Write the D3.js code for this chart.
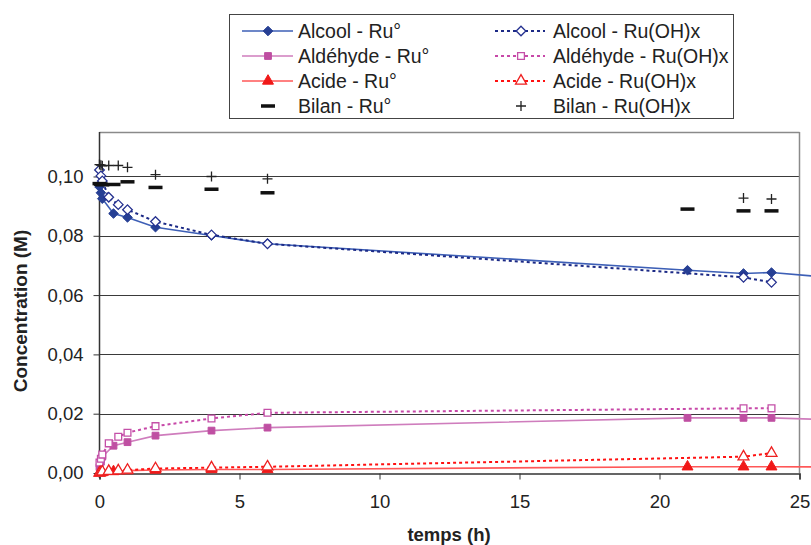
<!DOCTYPE html>
<html><head><meta charset="utf-8">
<script src="https://cdn.jsdelivr.net/npm/d3@7"></script>
<style>
html,body{margin:0;padding:0;background:#fff;}
svg{display:block;font-family:"Liberation Sans",Arial,sans-serif;}
</style></head>
<body><svg id="c" width="811" height="545"></svg>
<script>
// ---- data ----
const timesRu = [0, 0.05, 0.1, 0.5, 1, 2, 4, 6, 21, 23, 24, 30];
const alcoolRu   = [0.0965, 0.0945, 0.0925, 0.0875, 0.0862, 0.0829, 0.0801, 0.0773, 0.0684, 0.0673, 0.0676, 0.0628];
const aldehydeRu = [0.0020, 0.0038, 0.0055, 0.0092, 0.0104, 0.0126, 0.0143, 0.0153, 0.0186, 0.0186, 0.0186, 0.0168];
const acideRu    = [0.0000, 0.0002, 0.0003, 0.0005, 0.0008, 0.0010, 0.0012, 0.0012, 0.0021, 0.0021, 0.0021, 0.0019];
const bilanRu    = [0.0976, 0.0974, 0.0972, 0.0973, 0.0982, 0.0963, 0.0957, 0.0945, 0.0890, 0.0884, 0.0884, null];

const timesOH = [0, 0.05, 0.1, 0.33, 0.67, 1, 2, 4, 6, 23, 24];
const alcoolOH   = [0.1022, 0.1002, 0.0985, 0.0930, 0.0905, 0.0888, 0.0848, 0.0803, 0.0773, 0.0660, 0.0643];
const aldehydeOH = [0.0035, 0.0048, 0.0062, 0.0100, 0.0122, 0.0136, 0.0158, 0.0184, 0.0203, 0.0218, 0.0218];
const acideOH    = [0.0000, 0.0002, 0.0004, 0.0006, 0.0008, 0.0010, 0.0015, 0.0018, 0.0021, 0.0055, 0.0067];
const bilanOH    = [0.1040, 0.1038, 0.1036, 0.1037, 0.1037, 0.1031, 0.1006, 0.1000, 0.0992, 0.0927, 0.0924];

const xTicks = [0, 5, 10, 15, 20, 25];
const yTicks = [0, 0.02, 0.04, 0.06, 0.08, 0.10];
const legendLabels = ["Alcool - Ru°", "Alcool - Ru(OH)x", "Aldéhyde - Ru°", "Aldéhyde - Ru(OH)x",
                      "Acide - Ru°", "Acide - Ru(OH)x", "Bilan - Ru°", "Bilan - Ru(OH)x"];

// ---- layout ----
const svg = d3.select("#c");
const x = d3.scaleLinear().domain([0, 25]).range([99.5, 799.5]);
const y = d3.scaleLinear().domain([0, 0.115]).range([473, 132]);
const fmt = v => d3.format(".2f")(v).replace(".", ",");

// gridlines
svg.append("g").selectAll("line").data(yTicks.filter(d => d > 0)).join("line")
  .attr("x1", x(0)).attr("x2", x(25))
  .attr("y1", d => Math.round(y(d)) + 0.5).attr("y2", d => Math.round(y(d)) + 0.5)
  .attr("stroke", "#3a3a3a").attr("stroke-width", 1);

// frame top / right
svg.append("line").attr("x1", x(0)).attr("x2", x(25)).attr("y1", 132.5).attr("y2", 132.5)
  .attr("stroke", "#8a8a8a").attr("stroke-width", 1.5);
svg.append("line").attr("x1", x(25)).attr("x2", x(25)).attr("y1", 132).attr("y2", 473)
  .attr("stroke", "#8a8a8a").attr("stroke-width", 1.5);

// axes
const xAxis = d3.axisBottom(x).tickValues(xTicks).tickSize(6).tickPadding(15).tickFormat(d3.format("d"));
const gx = svg.append("g").attr("transform", "translate(0,473.5)").call(xAxis);
const yAxis = d3.axisLeft(y).tickValues(yTicks).tickSize(6).tickPadding(10).tickFormat(fmt);
const gy = svg.append("g").attr("transform", `translate(${x(0)},0)`).call(yAxis);
[gx, gy].forEach(g => {
  g.select(".domain").attr("stroke", "#333").attr("stroke-width", 1.5);
  g.selectAll(".tick line").attr("stroke", "#333");
  g.selectAll(".tick text").attr("font-size", 18.5).attr("fill", "#222")
    .attr("font-family", "'Liberation Sans',Arial,sans-serif");
});
gy.select(".domain").attr("d", "M0,132V478");

// titles
svg.append("text").attr("x", 449).attr("y", 541).attr("text-anchor", "middle")
  .attr("font-size", 18.5).attr("font-weight", "bold").attr("fill", "#222").text("temps (h)");
svg.append("text").attr("transform", "translate(27,311) rotate(-90)").attr("text-anchor", "middle")
  .attr("font-size", 19).attr("font-weight", "bold").attr("fill", "#222").text("Concentration (M)");

// ---- series ----
const sym = {
  diamond: "M0,-4.8L4.8,0L0,4.8L-4.8,0Z",
  square: d3.symbol().type(d3.symbolSquare).size(46)(),
  triangle: d3.symbol().type(d3.symbolTriangle).size(52)()
};
const series = [
  {t: timesRu, v: alcoolRu, line: "#3d5fb6", mk: "diamond", fill: "#263f94", stroke: "#263f94", dash: null},
  {t: timesOH, v: alcoolOH, line: "#1c2a86", mk: "diamond", fill: "#fff", stroke: "#24308f", dash: "3,3"},
  {t: timesRu, v: aldehydeRu, line: "#cf7dbd", mk: "square", fill: "#bf4fa2", stroke: "#bf4fa2", dash: null},
  {t: timesOH, v: aldehydeOH, line: "#c748a8", mk: "square", fill: "#fff", stroke: "#c450a8", dash: "3,3"},
  {t: timesRu, v: acideRu, line: "#ff5757", mk: "triangle", fill: "#f01818", stroke: "#f01818", dash: null},
  {t: timesOH, v: acideOH, line: "#ff1010", mk: "triangle", fill: "#fff", stroke: "#ee2020", dash: "3,3"}
];
const lineGen = d3.line().x(d => x(d[0])).y(d => y(d[1]));
series.forEach(s => {
  const pts = s.t.map((t, i) => [t, s.v[i]]).filter(d => d[1] != null);
  const g = svg.append("g");
  g.append("path").attr("d", lineGen(pts)).attr("fill", "none")
    .attr("stroke", s.line).attr("stroke-width", s.dash ? 2 : 1.6)
    .attr("stroke-dasharray", s.dash);
  g.selectAll("path.m").data(pts.filter(d => d[0] <= 25)).join("path").attr("class", "m")
    .attr("d", sym[s.mk]).attr("transform", d => `translate(${x(d[0])},${y(d[1])})`)
    .attr("fill", s.fill).attr("stroke", s.stroke).attr("stroke-width", s.fill === "#fff" ? 1.3 : 1);
});
// Bilan Ru° : dash markers
const bRu = timesRu.map((t, i) => [t, bilanRu[i]]).filter(d => d[1] != null);
svg.append("g").selectAll("rect").data(bRu).join("rect")
  .attr("x", d => x(d[0]) - 7).attr("y", d => y(d[1]) - 1.75).attr("width", 14).attr("height", 3.5)
  .attr("fill", "#111");
// Bilan Ru(OH)x : plus markers
const bOH = timesOH.map((t, i) => [t, bilanOH[i]]);
svg.append("g").selectAll("path").data(bOH).join("path")
  .attr("d", d => `M${x(d[0]) - 5},${y(d[1])}h10M${x(d[0])},${y(d[1]) - 5}v10`)
  .attr("stroke", "#222").attr("stroke-width", 1.3).attr("fill", "none");

// ---- legend ----
const lg = svg.append("g");
lg.append("rect").attr("x", 229.5).attr("y", 14.5).attr("width", 504).attr("height", 104)
  .attr("fill", "#fff").attr("stroke", "#444").attr("stroke-width", 1);
const rowsY = [31, 56, 81, 106];
const legendItems = [
  {s: series[0]}, {s: series[1]}, {s: series[2]}, {s: series[3]},
  {s: series[4]}, {s: series[5]}, {bilan: "dash"}, {bilan: "plus"}
];
legendItems.forEach((it, i) => {
  const col = i % 2, row = Math.floor(i / 2);
  const cy = rowsY[row];
  const x0 = col === 0 ? 242 : 495, x1 = col === 0 ? 293 : 545, cx = col === 0 ? 268 : 521;
  const tx = col === 0 ? 298 : 553;
  if (it.s) {
    lg.append("line").attr("x1", x0).attr("x2", x1).attr("y1", cy).attr("y2", cy)
      .attr("stroke", it.s.line).attr("stroke-width", it.s.dash ? 2 : 1.6).attr("stroke-dasharray", it.s.dash);
    lg.append("path").attr("d", sym[it.s.mk]).attr("transform", `translate(${cx},${cy})`)
      .attr("fill", it.s.fill).attr("stroke", it.s.stroke).attr("stroke-width", it.s.fill === "#fff" ? 1.3 : 1);
  } else if (it.bilan === "dash") {
    lg.append("rect").attr("x", cx - 7).attr("y", cy - 1.75).attr("width", 14).attr("height", 3.5).attr("fill", "#111");
  } else {
    lg.append("path").attr("d", `M${cx - 5},${cy}h10M${cx},${cy - 5}v10`).attr("stroke", "#222").attr("stroke-width", 1.3);
  }
  lg.append("text").attr("x", tx).attr("y", cy).attr("dy", "0.36em").attr("font-size", 19.5)
    .attr("fill", "#222").text(legendLabels[i]);
});
</script></body></html>
